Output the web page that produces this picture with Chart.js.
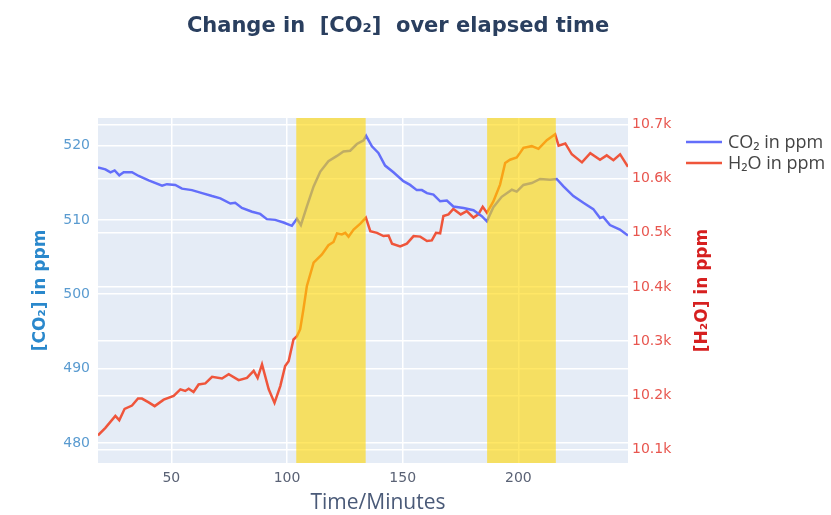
<!DOCTYPE html>
<html>
<head>
<meta charset="utf-8">
<script src="https://cdn.jsdelivr.net/npm/chart.js@4.4.1/dist/chart.umd.min.js"></script>
<style>
  html, body { margin: 0; padding: 0; background: #fff; }
  #wrap { width: 831px; height: 515px; position: relative; }
</style>
</head>
<body>
<div id="wrap"><canvas id="chart"></canvas></div>
<script>
// CO2 trace (minutes, ppm)
const co2Time = [18.3, 21.5, 23.7, 25.5, 27.5, 29.4, 33.0, 35.9, 40.2, 46.0, 48.1, 51.7, 54.6, 58.9, 63.3, 67.6, 71.2, 75.5, 77.6, 80.5, 84.9, 88.4, 91.3, 94.9, 98.5, 102.1, 104.3, 106.0, 108.6, 111.5, 114.4, 117.9, 121.6, 124.4, 127.3, 130.2, 133.1, 134.2, 136.7, 139.5, 142.4, 146.0, 150.3, 153.2, 156.1, 158.3, 160.5, 163.3, 166.2, 169.1, 171.9, 176.3, 180.6, 184.2, 186.4, 189.2, 192.8, 197.2, 199.3, 202.2, 205.8, 209.4, 213.7, 216.6, 219.5, 223.8, 228.1, 232.4, 235.3, 236.7, 239.6, 243.9, 247.4];
const co2Ppm = [517.05, 516.8, 516.4, 516.65, 516.0, 516.4, 516.4, 515.9, 515.3, 514.6, 514.8, 514.7, 514.2, 514.0, 513.6, 513.2, 512.9, 512.2, 512.3, 511.6, 511.1, 510.8, 510.1, 510.0, 509.65, 509.2, 510.15, 509.3, 511.8, 514.5, 516.5, 517.9, 518.6, 519.2, 519.3, 520.2, 520.7, 521.3, 519.9, 519.0, 517.3, 516.4, 515.2, 514.7, 514.0, 514.0, 513.6, 513.4, 512.5, 512.6, 511.8, 511.6, 511.3, 510.5, 509.8, 511.7, 513.1, 514.05, 513.8, 514.7, 514.95, 515.5, 515.4, 515.5, 514.5, 513.2, 512.3, 511.45, 510.25, 510.4, 509.3, 508.7, 507.9];

// H2O trace (minutes, ppm)
const h2oTime = [18.3, 21.5, 25.8, 27.5, 29.8, 33.0, 35.6, 37.3, 40.2, 42.8, 46.7, 51.0, 53.9, 56.0, 57.5, 59.6, 61.8, 64.7, 67.6, 71.9, 74.8, 79.1, 82.7, 85.6, 87.3, 89.2, 92.1, 94.6, 97.1, 99.2, 100.7, 102.8, 104.3, 105.7, 107.1, 108.6, 111.5, 115.1, 117.9, 120.1, 121.6, 123.7, 125.2, 126.6, 128.8, 131.7, 134.1, 136.0, 138.9, 141.7, 143.9, 145.4, 148.9, 151.8, 154.7, 157.6, 160.5, 162.6, 164.4, 166.2, 167.6, 169.8, 171.9, 175.1, 177.7, 180.6, 182.7, 184.6, 186.4, 189.2, 192.1, 194.3, 196.4, 199.3, 200.8, 202.2, 205.8, 208.7, 212.3, 215.9, 217.4, 220.3, 223.1, 227.5, 231.1, 235.3, 238.2, 241.1, 244.0, 247.4];
const h2oPpm = [10126, 10140, 10162, 10154, 10175, 10181, 10194, 10194, 10187, 10180, 10192, 10199, 10211, 10208, 10212, 10206, 10220, 10222, 10234, 10231, 10239, 10228, 10232, 10245, 10232, 10257, 10211, 10186, 10217, 10254, 10263, 10303, 10309, 10322, 10359, 10402, 10445, 10460, 10477, 10483, 10499, 10497, 10500, 10493, 10506, 10517, 10528, 10503, 10500, 10494, 10495, 10480, 10475, 10480, 10494, 10493, 10485, 10486, 10500, 10499, 10531, 10534, 10544, 10534, 10540, 10528, 10534, 10548, 10537, 10558, 10589, 10629, 10635, 10639, 10648, 10657, 10660, 10655, 10671, 10682, 10661, 10665, 10645, 10630, 10647, 10635, 10643, 10634, 10645, 10622];

// highlighted intervals (minutes)
const bandStart = [104, 186.5];
const bandEnd = [134, 216.2];

// tick labels
const xTicks = [50, 100, 150, 200];
const co2Ticks = [480, 490, 500, 510, 520];
const h2oTicks = [10100, 10200, 10300, 10400, 10500, 10600, 10700];

const zip = (xs, ys) => xs.map((x, i) => ({ x: x, y: ys[i] }));

const bandPlugin = {
    id: 'bands',
    afterDatasetsDraw(chart) {
        const { ctx, chartArea, scales } = chart;
        ctx.save();
        ctx.fillStyle = 'rgba(255, 215, 0, 0.6)';
        bandStart.forEach((s, i) => {
            const x0 = scales.x.getPixelForValue(s);
            const x1 = scales.x.getPixelForValue(bandEnd[i]);
            ctx.fillRect(x0, chartArea.top, x1 - x0, chartArea.bottom - chartArea.top);
        });
        ctx.restore();
    }
};

// title, x title, legend and right axis title sit where the original has them,
// not where chart.js box layout would put them
const textPlugin = {
    id: 'texts',
    afterDraw(chart) {
        const { ctx, chartArea } = chart;
        ctx.save();
        ctx.textBaseline = 'middle';
        ctx.textAlign = 'center';

        ctx.font = 'bold 21px "DejaVu Sans", sans-serif';
        ctx.fillStyle = '#2a3f5f';
        ctx.fillText('Change in  [CO₂]  over elapsed time', 398, 27);

        ctx.font = '21px "Open Sans", sans-serif';
        ctx.fillStyle = '#4a5a78';
        ctx.fillText('Time/Minutes', 378, 503);

        ctx.textAlign = 'left';
        ctx.font = '18px "Open Sans", sans-serif';
        chart.data.datasets.forEach((ds, i) => {
            const y = 142 + i * 21;
            ctx.strokeStyle = ds.borderColor;
            ctx.lineWidth = 2.5;
            ctx.beginPath();
            ctx.moveTo(686, y);
            ctx.lineTo(722, y);
            ctx.stroke();
            ctx.fillStyle = '#444';
            ctx.fillText(ds.label, 728, y + 1);
        });

        ctx.translate(703, (chartArea.top + chartArea.bottom) / 2);
        ctx.rotate(-Math.PI / 2);
        ctx.textAlign = 'center';
        ctx.font = 'bold 17px "DejaVu Sans", sans-serif';
        ctx.fillStyle = '#d62020';
        ctx.fillText('[H₂O] in ppm', 0, 0);
        ctx.restore();
    }
};

new Chart(document.getElementById('chart'), {
    type: 'line',
    data: {
        datasets: [
            {
                label: 'CO₂ in ppm',
                data: zip(co2Time, co2Ppm),
                borderColor: '#636efa',
                borderWidth: 2.5,
                pointRadius: 0,
                yAxisID: 'y'
            },
            {
                label: 'H₂O in ppm',
                data: zip(h2oTime, h2oPpm),
                borderColor: '#ef553b',
                borderWidth: 2.5,
                pointRadius: 0,
                yAxisID: 'y1'
            }
        ]
    },
    options: {
        responsive: true, maintainAspectRatio: false,
        animation: false,
        layout: { padding: { top: 118, right: 143, bottom: 0, left: 0 } },
        plugins: {
            legend: { display: false },
            tooltip: { enabled: false }
        },
        scales: {
            x: {
                type: 'linear',
                min: 18.3, max: 247.4,
                afterBuildTicks: s => { s.ticks = xTicks.map(v => ({ value: v })); },
                afterFit: s => { s.height = 52; },
                grid: { color: '#ffffff', lineWidth: 1.5, drawTicks: false },
                border: { display: false },
                ticks: { color: '#5a6275', padding: 7, font: { family: '"DejaVu Sans", sans-serif', size: 14 } }
            },
            y: {
                position: 'left',
                min: 477.3, max: 523.7,
                afterBuildTicks: s => { s.ticks = co2Ticks.map(v => ({ value: v })); },
                afterFit: s => { s.width = 98; },
                grid: { color: '#ffffff', lineWidth: 1.5, drawTicks: false },
                border: { display: false },
                ticks: { color: '#5a9bd0', padding: 8, font: { family: '"DejaVu Sans", sans-serif', size: 14 } },
                title: {
                    display: true, text: '[CO₂] in ppm', color: '#2a88cc',
                    font: { family: '"DejaVu Sans", sans-serif', size: 17, weight: 'bold' },
                    padding: { top: 30, bottom: 0 }
                }
            },
            y1: {
                position: 'right',
                min: 10075, max: 10712,
                afterBuildTicks: s => { s.ticks = h2oTicks.map(v => ({ value: v })); },
                afterFit: s => { s.width = 60; },
                grid: { color: '#ffffff', lineWidth: 1.5, drawTicks: false },
                border: { display: false },
                ticks: {
                    color: '#e8564f', padding: 4,
                    font: { family: '"DejaVu Sans", sans-serif', size: 14 },
                    callback: v => (v / 1000).toFixed(1) + 'k'
                }
            }
        }
    },
    plugins: [bandPlugin, textPlugin, {
        id: 'plotBg',
        beforeDraw(chart) {
            const { ctx, chartArea } = chart;
            ctx.save();
            ctx.fillStyle = '#e5ecf6';
            ctx.fillRect(chartArea.left, chartArea.top, chartArea.right - chartArea.left, chartArea.bottom - chartArea.top);
            ctx.restore();
        }
    }]
});
</script>
</body>
</html>
